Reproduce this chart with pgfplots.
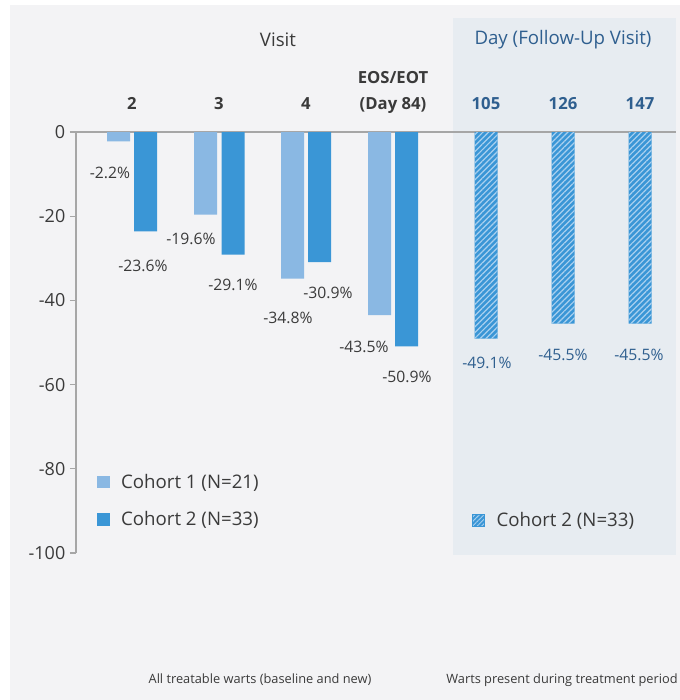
\documentclass[border=0pt]{standalone}
\usepackage{fontspec}
\setmainfont{Open Sans}
\usepackage{pgfplots}
\pgfplotsset{compat=1.18}
\usetikzlibrary{patterns.meta}
\definecolor{bgpanel}{HTML}{F3F3F5}
\definecolor{shadecol}{HTML}{E7ECF1}
\definecolor{cA}{HTML}{8AB8E3}
\definecolor{cB}{HTML}{3A96D6}
\definecolor{hatchc}{HTML}{A9D0EF}
\definecolor{txt}{HTML}{3A3A3A}
\definecolor{dayblue}{HTML}{2F5F8F}
\definecolor{axgray}{HTML}{A6A6A6}
\pgfplotsset{
  commonax/.style={at={(57pt,-414.75pt)}, anchor=south west, scale only axis,
    width=450pt, height=315.75pt, xmin=76, xmax=676, ymin=-100, ymax=0, clip=false},
}
\pgfplotstableread{
x y
118.5 -2.2
205.5 -19.6
292.5 -34.8
379.5 -43.5
}\cohortone
\pgfplotstableread{
x y
145.5 -23.6
233 -29.1
319.5 -30.9
406.5 -50.9
}\cohorttwo
\pgfplotstableread{
x y
486 -49.1
563 -45.5
640 -45.5
}\followup
\begin{document}
\begin{tikzpicture}
\begin{scope}[x=0.75pt,y=-0.75pt]
\useasboundingbox (0,0) rectangle (680,700);
\fill[white] (0,0) rectangle (680,700);
\fill[bgpanel] (10,5) rectangle (680,700);
\fill[shadecol] (453,18) rectangle (676,555);
\node[txt, font=\fontsize{14}{16}\selectfont] at (278,40) {Visit};
\node[dayblue, font=\fontsize{14}{16}\selectfont] at (563,40) {Day (Follow-Up Visit)};
\node[txt, font=\fontsize{9.6}{11}\selectfont] at (260,680) {All treatable warts (baseline and new)};
\node[txt, font=\fontsize{9.6}{11}\selectfont] at (562,680) {Warts present during treatment period};
\end{scope}
\begin{axis}[commonax,
  axis x line*=top, axis y line*=left,
  axis line style={axgray, line width=0.8pt},
  xtick={132,219,306,393,486,563,640},
  xticklabels={{2\strut},{3\strut},{4\strut},{EOS/EOT\\(Day 84)\strut},{\color{dayblue}105\strut},{\color{dayblue}126\strut},{\color{dayblue}147\strut}},
  xticklabel style={align=center, font=\bfseries\fontsize{12.5}{20}\selectfont, text=txt, yshift=2.5pt},
  xtick style={draw=none},
  ytick={-100,-80,-60,-40,-20,0},
  yticklabels={-100,-80,-60,-40,-20,0},
  yticklabel style={font=\fontsize{13.5}{16}\selectfont, text=txt},
  ytick style={axgray, line width=0.8pt},
  tick align=outside, major tick length=4.5pt,
  legend style={at={(axis cs:97,-80.5)}, anchor=north west, draw=none, fill=none,
    font=\fontsize{14}{16}\selectfont, text=txt, row sep=12pt, inner sep=0pt,
    /tikz/every odd column/.append style={column sep=7pt}},
  legend cell align=left,
]
\addplot[ybar, bar width=23, bar shift=0pt, fill=cA, draw=none, forget plot] table[x=x,y=y] {\cohortone};
\addplot[ybar, bar width=23, bar shift=0pt, fill=cB, draw=none, forget plot] table[x=x,y=y] {\cohorttwo};
\addlegendimage{legend image code/.code={\fill[cA] (0pt,-4.2pt) rectangle (8.5pt,4.3pt);}}
\addlegendentry{Cohort 1 (N=21)}
\addlegendimage{legend image code/.code={\fill[cB] (0pt,-4.2pt) rectangle (8.5pt,4.3pt);}}
\addlegendentry{Cohort 2 (N=33)}
\begin{scope}[font=\fontsize{11.8}{14}\selectfont, text=txt]
\node at (axis cs:110,-9.7) {-2.2\%};
\node at (axis cs:191,-25.4) {-19.6\%};
\node at (axis cs:288,-44.2) {-34.8\%};
\node at (axis cs:364,-51.1) {-43.5\%};
\node at (axis cs:143,-31.8) {-23.6\%};
\node at (axis cs:233,-36.3) {-29.1\%};
\node at (axis cs:328,-38.2) {-30.9\%};
\node at (axis cs:407,-58.2) {-50.9\%};
\end{scope}
\end{axis}
\begin{axis}[commonax, hide axis,
  legend style={at={(axis cs:472,-89.6)}, anchor=north west, draw=none, fill=none,
    font=\fontsize{14}{16}\selectfont, text=txt, inner sep=0pt,
    /tikz/every odd column/.append style={column sep=7pt}},
  legend cell align=left,
]
\addplot[ybar, bar width=23, bar shift=0pt, fill=cB, draw=none, forget plot,
  postaction={pattern={Lines[angle=45,distance=3pt,line width=0.9pt]}, pattern color=hatchc}] table[x=x,y=y] {\followup};
\addlegendimage{legend image code/.code={\fill[cB, postaction={pattern={Lines[angle=45,distance=2.4pt,line width=0.7pt]}, pattern color=hatchc}] (0pt,-4.2pt) rectangle (8.5pt,4.3pt);}}
\addlegendentry{Cohort 2 (N=33)}
\begin{scope}[font=\fontsize{11.8}{14}\selectfont, text=dayblue]
\node at (axis cs:487,-54.9) {-49.1\%};
\node at (axis cs:563,-53.0) {-45.5\%};
\node at (axis cs:639,-53.0) {-45.5\%};
\end{scope}
\end{axis}
\end{tikzpicture}
\end{document}
